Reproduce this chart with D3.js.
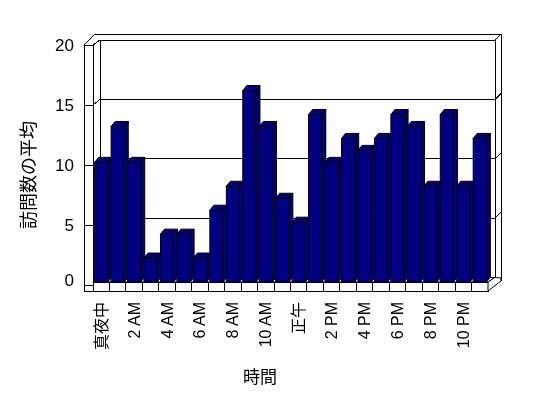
<!DOCTYPE html>
<html><head><meta charset="utf-8">
<script src="https://cdn.jsdelivr.net/npm/d3@7"></script>
<style>
html,body{margin:0;padding:0;background:#fff;}
text{font-family:"Liberation Sans","Noto Sans CJK JP",sans-serif;fill:#000;}
.lbl{filter:grayscale(100%);}
</style></head>
<body><svg id="c" width="548" height="398"></svg>
<script>
const hours = ["真夜中","1 AM","2 AM","3 AM","4 AM","5 AM","6 AM","7 AM","8 AM","9 AM","10 AM","11 AM",
               "正午","1 PM","2 PM","3 PM","4 PM","5 PM","6 PM","7 PM","8 PM","9 PM","10 PM","11 PM"];
const visits = [10,13,10,2,4,4,2,6,8,16,13,7,5,14,10,12,11,12,14,13,8,14,8,12];
const yTicks = [0,5,10,15,20];
const yTitle = "訪問数の平均";
const xTitle = "時間";

const svg = d3.select("#c");
const line = (x1,y1,x2,y2)=>svg.append("line").attr("x1",x1).attr("y1",y1).attr("x2",x2).attr("y2",y2)
  .attr("stroke","#000").attr("stroke-width",1).attr("shape-rendering","crispEdges");

// geometry
const fx0 = 93, fx1 = 488;          // front plane (bars / floor)
const wdx = 7;                      // wall depth x offset
const x = d3.scaleBand().domain(hours).range([fx0,fx1]).paddingInner(0.2).paddingOuter(0.1);
const yBar = d3.scaleLinear().domain([0,20]).range([282,42.7]);   // bar front plane
const yBack = d3.scaleLinear().domain([0,20]).range([277.5,40]);  // back wall
const yAx = d3.scaleLinear().domain([0,20]).range([285,45]);      // front axis
const bx0 = fx0 + wdx, bx1 = fx1 + wdx;

// back wall
svg.append("rect").attr("x",bx0).attr("y",yBack(20)).attr("width",bx1-bx0).attr("height",yBack(0)-yBack(20))
  .attr("fill","#fff").attr("stroke","#000").attr("shape-rendering","crispEdges");
// back wall thickness top
line(95,34,501,34);
line(bx1,yBack(20),501,34);
line(501,34,501,281);
// gridlines + left connectors + right ticks
yTicks.forEach(v=>{
  if(v>0 && v<20) line(bx0,yBack(v),bx1,yBack(v));
  line(84,yAx(v),fx0,yAx(v));
  line(fx0,yAx(v),bx0,yBack(v));
  if(v>0) line(bx1,yBack(v),501,yBack(v)-6);
});
// left wall
line(84,yAx(20),84,291);
line(fx0,yAx(20),fx0,282);
line(84,yAx(20),95,34);
line(fx0,yAx(20),bx0,yBack(20));
// floor
svg.append("polygon").attr("points",[[fx0,282],[bx0,yBack(0)],[bx1,yBack(0)],[fx1,282]].join(" "))
  .attr("fill","#fff").attr("stroke","#000");
svg.append("rect").attr("x",fx0).attr("y",282).attr("width",fx1-fx0).attr("height",9)
  .attr("fill","#fff").attr("stroke","#000").attr("shape-rendering","crispEdges");
line(84,291,fx0,291);
const step = x.step();
d3.range(1,hours.length).forEach(i=>line(fx0+i*step,282,fx0+i*step,291));
svg.append("polygon").attr("points",[[fx1,282],[bx1,yBack(0)],[501,278],[501,281],[fx1,291]].join(" "))
  .attr("fill","#fff").attr("stroke","#000");

// bars
const ddx = 4, ddy = -5;
const g = svg.append("g");
hours.forEach((h,i)=>{
  const v = visits[i];
  const x0 = x(h), w = x.bandwidth(), yt = yBar(v), yb = yBar(0);
  const bg = g.append("g").attr("fill","#000080").attr("stroke","#000").attr("stroke-width",1).attr("stroke-linejoin","miter");
  bg.append("polygon").attr("points",[[x0+w,yt],[x0+w+ddx,yt+ddy],[x0+w+ddx,yb+ddy],[x0+w,yb]].join(" "));
  bg.append("polygon").attr("points",[[x0,yt],[x0+ddx,yt+ddy],[x0+w+ddx,yt+ddy],[x0+w,yt]].join(" "));
  bg.append("rect").attr("x",x0).attr("y",yt).attr("width",w).attr("height",yb-yt);
});

const lg = svg.append("g").attr("class","lbl");
// y labels
lg.append("g").selectAll("text").data(yTicks).join("text")
  .attr("x",74).attr("y",d=>Math.min(yAx(d),280)).attr("text-anchor","end").attr("dominant-baseline","central")
  .attr("font-size",17).text(d=>d);
// x labels
lg.append("g").selectAll("text").data(hours.filter((d,i)=>i%2===0)).join("text")
  .attr("transform",d=>`translate(${x(d)+x.bandwidth()/2},302) rotate(-90)`)
  .attr("text-anchor","end").attr("dominant-baseline","central").attr("font-size",16).text(d=>d);
// titles
lg.append("text").attr("transform","translate(29,175) rotate(-90)").attr("text-anchor","middle")
  .attr("dominant-baseline","central").attr("font-size",18).text(yTitle);
lg.append("text").attr("x",260).attr("y",377).attr("text-anchor","middle")
  .attr("dominant-baseline","central").attr("font-size",17).text(xTitle);
</script></body></html>
